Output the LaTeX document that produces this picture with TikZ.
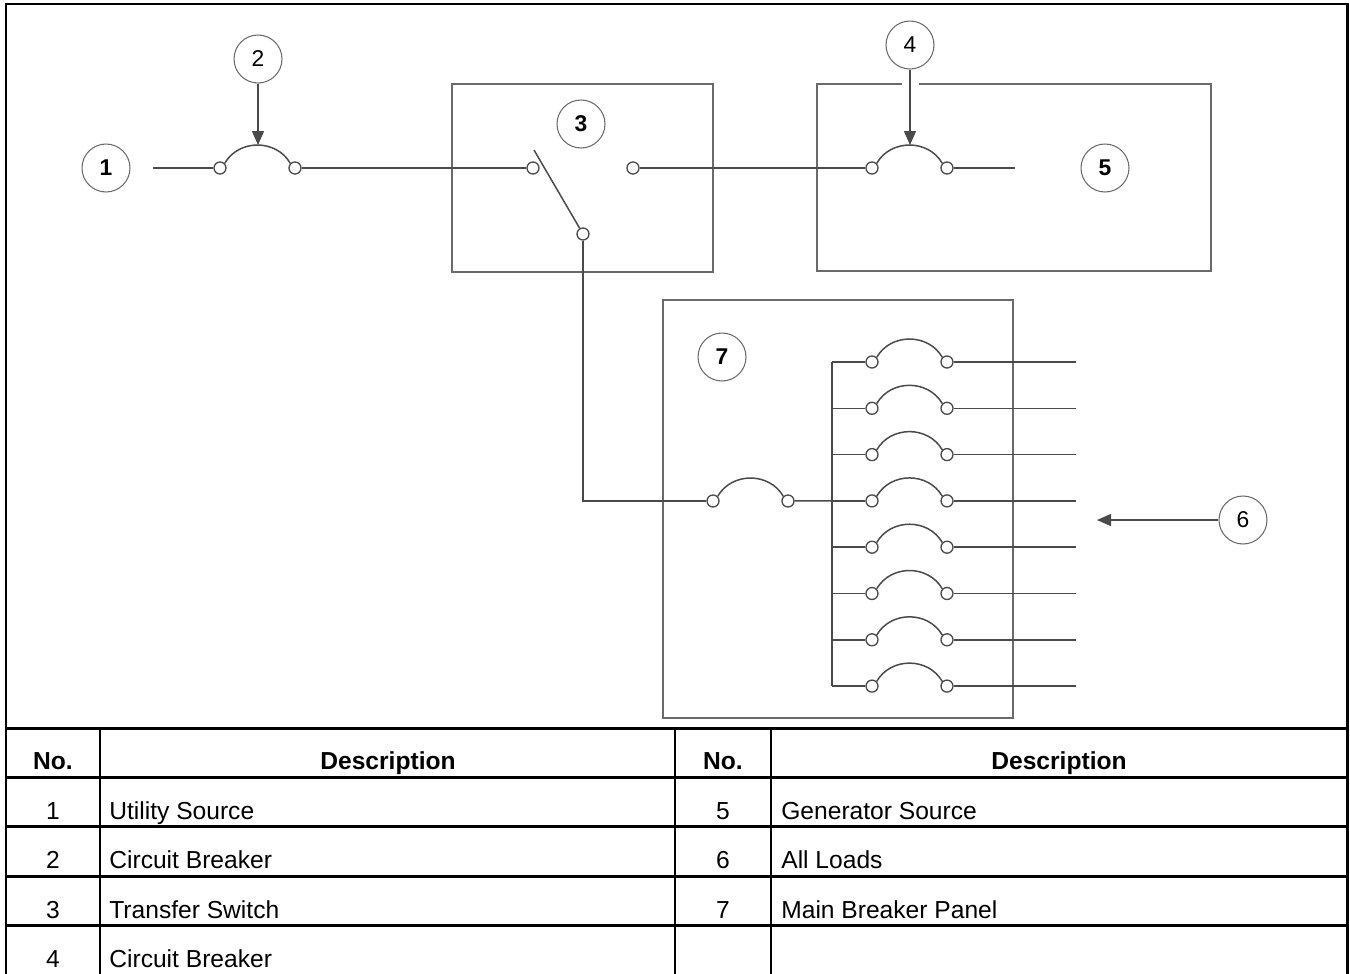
\documentclass[tikz,border=0pt]{standalone}
\usepackage{fontspec}
\setmainfont{Liberation Sans}
\usetikzlibrary{shapes,arrows.meta,positioning}
\definecolor{wiregray}{HTML}{4A4A4A}
\definecolor{ringgray}{HTML}{6A6A6A}

\begin{document}
\begin{tikzpicture}[x=0.02cm, y=-0.02cm,
  wire/.style={draw=wiregray, line width=0.85pt},
  term/.style={circle, draw=wiregray, fill=white, line width=0.75pt, minimum size=0.24cm, inner sep=0pt},
  tag/.style={circle, draw=ringgray, line width=0.6pt, minimum size=0.96cm, inner sep=0pt, font=\fontsize{13}{15}\selectfont},
  panel/.style={draw=ringgray, line width=0.9pt, rectangle, inner sep=0pt},
  pointer/.style={wire, -{Triangle[width=0.24cm, length=0.28cm]}},
  cbarc/.style={wire, bend left=60, looseness=1.1},
  tabline/.style={line width=1.7pt},
  cell/.style={anchor=base, inner sep=0pt, font=\fontsize{14}{16}\selectfont}]
\useasboundingbox (0,0) rectangle (1350,974);
\draw[tabline] (6,4) rectangle (1347,976);

% boxes
\node[panel, minimum width=5.22cm, minimum height=3.76cm] (ats) at (582.5,178) {};
\node[panel, minimum width=7.88cm, minimum height=3.74cm] (gen) at (1014,177.5) {};
\node[panel, minimum width=7cm, minimum height=8.36cm] (mbp) at (838,509) {};

% numbered tags
\node[tag] (c1) at (106,168) {\textbf{1}};
\node[tag] (c2) at (258,59) {2};
\node[tag] (c3) at (581,124) {\textbf{3}};
\node[tag] (c4) at (910,45) {4};
\node[tag] (c5) at (1105,168) {\textbf{5}};
\node[tag] (c6) at (1243,520) {6};
\node[tag] (c7) at (722,357) {\textbf{7}};

% utility breaker
\coordinate (feed) at (153,168);
\node[term] (b2l) at (220,168) {};
\node[term] (b2r) at (295,168) {};
\draw[wire] (feed) -- (b2l);
\draw[cbarc] (b2l.north east) to coordinate[midway] (k2) (b2r.north west);
\draw[pointer] (c2) -- (c2 |- k2);

% transfer switch
\node[term] (sw1) at (533,168) {};
\node[term] (sw2) at (633,168) {};
\node[term] (sw0) at (583,234) {};
\coordinate (blade) at (534,150);
\draw[wire] (b2r) -- (sw1);
\draw[wire] (blade) -- (sw0);

% generator breaker
\node[term] (b4l) at (872,168) {};
\node[term] (b4r) at (947,168) {};
\coordinate (genend) at (1015,168);
\draw[wire] (sw2) -- (b4l);
\draw[cbarc] (b4l.north east) to coordinate[midway] (k4) (b4r.north west);
\draw[wire] (b4r) -- (genend);
\draw[white, line width=0.34cm, shorten <=0.1cm, shorten >=0.8cm] (c4.south) -- (c4 |- k4);
\draw[pointer] (c4) -- (c4 |- k4);

% main breaker panel
\node[term] (mbl) at (713,501) {};
\node[term] (mbr) at (788,501) {};
\draw[wire] (sw0) |- (mbl);
\draw[cbarc] (mbl.north east) to (mbr.north west);
\foreach \i in {0,...,7}{
  \pgfmathsetmacro\yy{362+46.3*\i}
  \coordinate (tap\i) at (832,\yy);
  \node[term] (fl\i) at (872,\yy) {};
  \node[term] (fr\i) at (947,\yy) {};
  \coordinate (load\i) at (1076,\yy);
  \draw[wire] (tap\i) -- (fl\i);
  \draw[cbarc] (fl\i.north east) to (fr\i.north west);
  \draw[wire] (fr\i) -- (load\i);
}
\draw[wire] (tap0) -- (tap7);
\draw[wire] (mbr) -- (tap3);
\coordinate (loads) at (1097,520);
\draw[pointer] (c6) -- (loads);

% legend table
\foreach \y in {728,777,826,876,925} \draw[tabline] (6,\y) -- (1347,\y);
\foreach \x in {100,675,771} \draw[tabline] (\x,728) -- (\x,976);
\node[cell, font=\fontsize{14}{16}\selectfont\bfseries] (hno1) at (53,769) {No.};
\node[cell, font=\fontsize{14}{16}\selectfont\bfseries] (hdesc1) at (388,769) {Description};
\node[cell, font=\fontsize{14}{16}\selectfont\bfseries] (hno2) at (723,769) {No.};
\node[cell, font=\fontsize{14}{16}\selectfont\bfseries] (hdesc2) at (1059,769) {Description};
\foreach \y/\n/\d/\m/\e [count=\r] in {819/1/Utility Source/5/Generator Source,
    868/2/Circuit Breaker/6/All Loads, 918/3/Transfer Switch/7/Main Breaker Panel,
    967/4/Circuit Breaker//}{
  \node[cell] (na\r) at (53,\y) {\n};
  \node[cell, anchor=base west] (da\r) at (109,\y) {\d};
  \node[cell] (nb\r) at (723,\y) {\m};
  \node[cell, anchor=base west] (db\r) at (781,\y) {\e};
}
\end{tikzpicture}
\end{document}
